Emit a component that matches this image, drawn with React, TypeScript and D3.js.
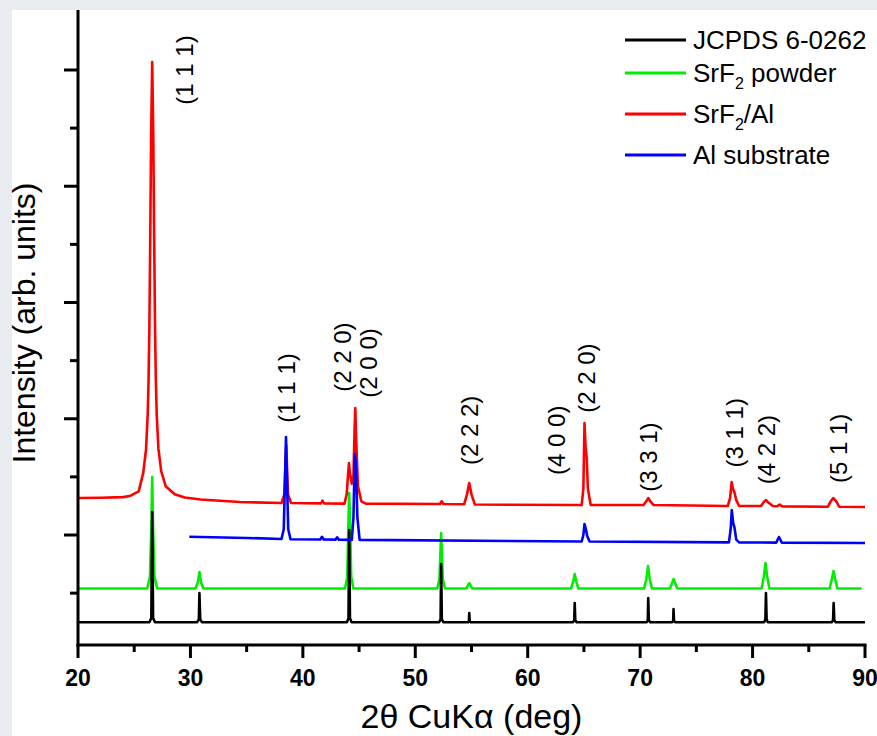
import React from "react";
import * as d3 from "d3";

// ---------- data ----------
const xTickValues = [20, 30, 40, 50, 60, 70, 80, 90];
const xMinorTickValues = [25, 35, 45, 55, 65, 75, 85];
const yMajorTickValues = [1000, 2000, 3000, 4000, 5000];
const yMinorTickValues = [500, 1500, 2500, 3500, 4500];

const seriesNames = ["JCPDS 6-0262", "SrF2 powder", "SrF2/Al", "Al substrate"];
const seriesColors = ["#000000", "#00ee00", "#ff0000", "#0000ff"];

// JCPDS 6-0262 reference sticks
const jcpds: [number, number][] = [
  [20, 250],
  [26.35, 250], [26.52, 285], [26.6, 1198], [26.68, 285], [26.85, 250],
  [30.6, 250], [30.75, 275], [30.8, 501], [30.87, 275], [31.02, 250],
  [43.92, 250], [44.06, 285], [44.12, 1043], [44.19, 285], [44.33, 250],
  [52.12, 250], [52.25, 275], [52.3, 751], [52.36, 275], [52.5, 250],
  [54.7, 250], [54.77, 260], [54.8, 329], [54.84, 260], [54.92, 250],
  [64.03, 250], [64.14, 268], [64.18, 415], [64.23, 268], [64.35, 250],
  [70.58, 250], [70.68, 270], [70.72, 458], [70.77, 270], [70.88, 250],
  [72.85, 250], [72.94, 265], [72.97, 363], [73.01, 265], [73.1, 250],
  [81.03, 250], [81.14, 275], [81.19, 501], [81.25, 275], [81.36, 250],
  [87.05, 250], [87.16, 268], [87.21, 415], [87.27, 268], [87.38, 250],
  [90, 250],
];

// SrF2 powder
const srf2Powder: [number, number][] = [
  [20, 540], [26.15, 540], [26.4, 640], [26.52, 1050], [26.6, 1499], [26.68, 1050], [26.8, 640], [27.05, 540],
  [30.45, 540], [30.65, 590], [30.8, 682], [30.95, 590], [31.15, 540],
  [43.75, 540], [43.95, 640], [44.05, 1100], [44.12, 1361], [44.2, 1100], [44.3, 640], [44.5, 540],
  [51.95, 540], [52.15, 620], [52.3, 1017], [52.45, 620], [52.65, 540],
  [54.55, 540], [54.7, 570], [54.8, 587], [54.9, 570], [55.05, 540],
  [63.85, 540], [64.05, 600], [64.18, 665], [64.32, 600], [64.5, 540],
  [70.35, 540], [70.55, 620], [70.7, 733], [70.85, 620], [71.05, 540],
  [72.65, 540], [72.85, 590], [72.98, 622], [73.1, 590], [73.3, 540],
  [80.8, 540], [81.0, 640], [81.15, 759], [81.3, 640], [81.5, 540],
  [86.85, 540], [87.05, 620], [87.2, 690], [87.35, 620], [87.55, 540],
  [89.7, 540],
];

// SrF2/Al film
const srf2Al: [number, number][] = [
  [20, 1318], [22, 1320], [24, 1326], [24.6, 1335], [25.4, 1375], [25.8, 1535], [26.05, 1735],
  [26.2, 2040], [26.28, 2350], [26.35, 2800], [26.42, 3500], [26.5, 4400], [26.6, 5069],
  [26.7, 4400], [26.78, 3500], [26.85, 2800], [26.92, 2350], [27.0, 2040], [27.15, 1745],
  [27.4, 1550], [27.8, 1420], [28.6, 1350], [29.5, 1322], [30.9, 1305],
  [34.4, 1284], [38.1, 1275], [38.35, 1350], [38.52, 1774], [38.68, 1350], [38.95, 1275],
  [41.6, 1272], [41.75, 1295], [41.9, 1272], [43.7, 1270], [43.9, 1350], [44.02, 1520],
  [44.1, 1619], [44.2, 1520], [44.35, 1440], [44.5, 1520], [44.6, 1900], [44.66, 2092],
  [44.75, 1800], [44.9, 1420], [45.2, 1290], [45.6, 1270],
  [52.2, 1267], [52.35, 1290], [52.5, 1267],
  [54.35, 1265], [54.6, 1350], [54.8, 1447], [55.0, 1350], [55.3, 1262],
  [64.8, 1258], [64.95, 1400], [65.05, 1963], [65.15, 1750], [65.25, 1662], [65.35, 1400], [65.6, 1258],
  [70.3, 1258], [70.55, 1290], [70.72, 1318], [70.9, 1290], [71.2, 1258],
  [77.8, 1250], [78.0, 1320], [78.14, 1456], [78.25, 1400], [78.38, 1370], [78.55, 1300], [78.8, 1250],
  [80.75, 1249], [81.0, 1285], [81.2, 1301], [81.45, 1275], [81.8, 1250],
  [82.2, 1248], [82.4, 1262], [82.65, 1246],
  [86.7, 1243], [86.95, 1290], [87.18, 1318], [87.45, 1290], [87.7, 1243],
  [90, 1241],
];

// Al substrate
const alSubstrate: [number, number][] = [
  [29.9, 985], [35, 975], [38.1, 966], [38.3, 1050], [38.42, 1500], [38.5, 1843], [38.58, 1500], [38.7, 1050], [38.9, 964],
  [41.55, 962], [41.7, 985], [41.85, 961],
  [42.9, 960], [43.05, 980], [43.2, 959],
  [44.35, 958], [44.5, 1150], [44.62, 1697], [44.72, 1600], [44.85, 1150], [45.05, 958],
  [64.8, 944], [64.95, 1000], [65.05, 1095], [65.15, 1060], [65.3, 990], [65.5, 944],
  [77.9, 937], [78.05, 1050], [78.15, 1215], [78.28, 1100], [78.38, 1069], [78.55, 960], [78.8, 937],
  [82.1, 935], [82.35, 983], [82.6, 935], [90, 932],
];

// Miller index labels: [label, 2theta anchor, intensity anchor]
const hklLabels: [string, number, number][] = [
  ["(1 1 1)", 29.43, 5000],
  ["(1 1 1)", 38.55, 2265],
  ["(2 2 0)", 43.52, 2530],
  ["(2 0 0)", 45.8, 2480],
  ["(2 2 2)", 54.8, 1900],
  ["(4 0 0)", 62.52, 1815],
  ["(2 2 0)", 65.27, 2350],
  ["(3 3 1)", 70.78, 1670],
  ["(3 1 1)", 78.35, 1880],
  ["(4 2 2)", 81.28, 1735],
  ["(5 1 1)", 87.6, 1745],
];

// ---------- layout ----------
const W = 877;
const H = 736;
const FONT = "'Liberation Sans', Arial, Helvetica, sans-serif";

export default function App() {
  const x = d3.scaleLinear().domain([20, 90]).range([78, 865]);
  const y = d3.scaleLinear().domain([54, 5516]).range([645, 10]);
  const line = d3
    .line<[number, number]>()
    .x((d) => x(d[0]))
    .y((d) => y(d[1]));

  const drawOrder: { data: [number, number][]; color: string }[] = [
    { data: srf2Powder, color: seriesColors[1] },
    { data: jcpds, color: seriesColors[0] },
    { data: srf2Al, color: seriesColors[2] },
    { data: alSubstrate, color: seriesColors[3] },
  ];

  const x0 = x(20);
  const axisY = y(54);
  const legendRows = [40, 73, 114, 155];

  return (
    <svg
      width={W}
      height={H}
      style={{ position: "absolute", left: 0, top: 0, display: "block" }}
      fontFamily={FONT}
    >
      <rect x={0} y={0} width={W} height={H} fill="#e8ebf0" />
      <rect x={12} y={10} width={W - 12} height={H - 10} fill="#ffffff" />

      {/* data */}
      {drawOrder.map((s, i) => (
        <path
          key={i}
          d={line(s.data) || ""}
          fill="none"
          stroke={s.color}
          strokeWidth={2.6}
          strokeLinejoin="round"
        />
      ))}

      {/* axes */}
      <g stroke="#000" strokeWidth={3} strokeLinecap="butt">
        <line x1={x0} y1={10} x2={x0} y2={axisY + 1.5} />
        <line x1={x0 - 1.5} y1={axisY} x2={x(90) + 1.5} y2={axisY} />
        {xTickValues.map((t) => (
          <line key={"xt" + t} x1={x(t)} y1={axisY} x2={x(t)} y2={axisY + 13} />
        ))}
        {xMinorTickValues.map((t) => (
          <line key={"xm" + t} x1={x(t)} y1={axisY} x2={x(t)} y2={axisY + 7} />
        ))}
        {yMajorTickValues.map((t) => (
          <line key={"yt" + t} x1={x0 - 14} y1={y(t)} x2={x0} y2={y(t)} />
        ))}
        {yMinorTickValues.map((t) => (
          <line key={"ym" + t} x1={x0 - 8} y1={y(t)} x2={x0} y2={y(t)} />
        ))}
      </g>

      {/* x tick labels */}
      {xTickValues.map((t) => (
        <text
          key={"xl" + t}
          x={x(t)}
          y={686}
          textAnchor="middle"
          fontSize={23}
          fontWeight="bold"
          fill="#000"
        >
          {t}
        </text>
      ))}

      {/* axis titles */}
      <text x={(x(20) + x(90)) / 2} y={728} textAnchor="middle" fontSize={34} fill="#000">
        2θ CuKα (deg)
      </text>
      <text
        transform={`translate(35, 323) rotate(-90)`}
        textAnchor="middle"
        fontSize={32}
        fill="#000"
      >
        Intensity (arb. units)
      </text>

      {/* hkl labels */}
      {hklLabels.map(([lab, tx, ty], i) => (
        <text
          key={"h" + i}
          transform={`translate(${x(tx)}, ${y(ty)}) rotate(-90)`}
          textAnchor="middle"
          dominantBaseline="central"
          fontSize={24}
          fill="#000"
        >
          {lab}
        </text>
      ))}

      {/* legend */}
      {seriesNames.map((name, i) => {
        const ly = legendRows[i];
        const sub = name.startsWith("SrF2");
        return (
          <g key={"lg" + i}>
            <line x1={625} y1={ly} x2={686} y2={ly} stroke={seriesColors[i]} strokeWidth={3} />
            <text x={693} y={ly + 9} fontSize={26} fill="#000">
              {sub ? (
                <>
                  SrF
                  <tspan fontSize={16} dy={7}>2</tspan>
                  <tspan dy={-7}>{name.slice(4)}</tspan>
                </>
              ) : (
                name
              )}
            </text>
          </g>
        );
      })}
    </svg>
  );
}
